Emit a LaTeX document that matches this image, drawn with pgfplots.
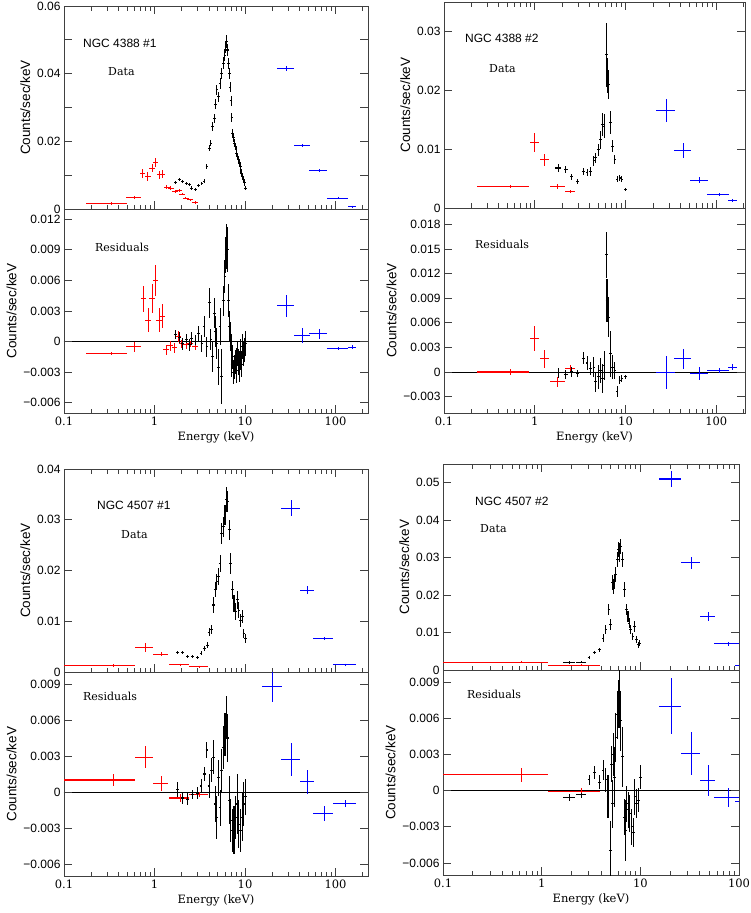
\documentclass[border=0pt]{standalone}
\usepackage{pgfplots}
\pgfplotsset{compat=1.18}
\usepackage{fontspec}
\setmainfont{Liberation Sans}
\newfontfamily\serf{DejaVu Serif}
\pgfplotsset{
  panel/.style={
    scale only axis, xmin=0.1,
    tick align=inside,
    scaled y ticks=false,
    xtick={0.1,1,10,100},
    minor xtick={0.2,0.3,0.4,0.5,0.6,0.7,0.8,0.9,2,3,4,5,6,7,8,9,20,30,40,50,60,70,80,90,200},
    major tick length=8pt, minor tick length=4.5pt,
    axis line style={line width=0.8pt, black!75},
    every tick/.append style={line width=0.7pt, black!75},
    yticklabel style={font=\fontsize{12}{14}\selectfont},
    xticklabel style={font=\serf\fontsize{11.5}{13}\selectfont},
    ylabel={Counts/sec/keV},
    ylabel style={font=\fontsize{13.5}{15}\selectfont},
    anchor=north west,
  },
  dat/.style={panel, xticklabels={}},
  res/.style={panel, xtick pos=left, xticklabels={0.1,1,10,100},
    xlabel={Energy (keV)}, xlabel style={font=\serf\fontsize{11.5}{13}\selectfont},
    extra y ticks={0}, extra y tick labels={}, extra y tick style={grid=major},
    major grid style={black, line width=0.8pt}},
  eb/.style={only marks, mark=+, mark size=1.3pt, line width=1.05pt,
    mark options={line width=1.05pt},
    error bars/x dir=both, error bars/x explicit,
    error bars/y dir=both, error bars/y explicit,
    error bars/error mark=none,
    error bars/error bar style={line width=1.05pt}},
}
\newcommand{\lab}[2]{\node[anchor=west, inner sep=0pt, font=\fontsize{12}{14}\selectfont] at #1 {#2};}
\newcommand{\slab}[2]{\node[anchor=west, inner sep=0pt, font=\serf\fontsize{11}{13}\selectfont] at #1 {#2};}
\begin{document}
\begin{tikzpicture}
\path[use as bounding box] (0,0) rectangle (750pt,-913pt);

%================ NGC 4388 #1 data
\begin{semilogxaxis}[dat, at={(64pt,-6pt)}, width=304pt, height=203pt, xmax=228,
  ymin=0, ymax=0.06, ytick={0,0.01,0.02,0.03,0.04,0.05,0.06},
  yticklabels={0,,0.02,,0.04,,0.06}]
\addplot[red, eb] table[x=x,y=y,x error=ex,y error=ey] {
x y ex ey
0.336 0.00157 0.16 0.0001
0.60 0.00344 0.11 0.0003
0.743 0.0106 0.05 0.0013
0.844 0.0096 0.06 0.0013
0.942 0.0121 0.065 0.0013
1.026 0.0138 0.07 0.0014
1.135 0.0101 0.08 0.0012
1.225 0.0103 0.08 0.0012
1.367 0.0064 0.1 0.0006
1.514 0.0062 0.11 0.0006
1.69 0.0052 0.12 0.0005
1.87 0.0055 0.13 0.0005
2.02 0.0044 0.14 0.0004
2.22 0.0032 0.16 0.0003
2.47 0.0027 0.18 0.0003
2.81 0.0019 0.2 0.0002
};
\addplot[black, eb] table[x=x,y=y,x error=ex,y error=ey] {
x y ex ey
1.72 0.0079 0.07 0.0005
1.87 0.0087 0.07 0.0005
2.05 0.0082 0.08 0.0005
2.24 0.0075 0.08 0.0005
2.42 0.0072 0.09 0.0005
2.58 0.0062 0.09 0.0005
2.81 0.0057 0.1 0.0005
3.05 0.0069 0.1 0.0005
3.33 0.0075 0.1 0.0005
3.53 0.0082 0.1 0.0006
3.78 0.0126 0.08 0.0008
4.04 0.018 0.08 0.001
4.2 0.0195 0.05 0.001
4.40 0.0244 0.05 0.0012
4.59 0.0268 0.05 0.0013
4.75 0.0310 0.05 0.0015
4.88 0.0352 0.05 0.0015
5.1 0.0332 0.05 0.0015
5.3 0.0372 0.05 0.0016
5.52 0.0401 0.05 0.0016
5.77 0.0431 0.05 0.0017
5.99 0.0455 0.05 0.0017
6.15 0.0480 0.05 0.0018
6.28 0.0495 0.05 0.0018
6.4 0.047 0.05 0.0018
6.55 0.043 0.05 0.0017
6.71 0.040 0.05 0.0016
6.85 0.036 0.05 0.0015
7.0 0.032 0.05 0.0015
7.15 0.027 0.05 0.0014
7.31 0.0224 0.05 0.0013
7.45 0.021 0.05 0.0012
7.6 0.0195 0.06 0.0012
7.75 0.0185 0.06 0.0011
7.95 0.0175 0.06 0.0011
8.1 0.0165 0.06 0.001
8.3 0.0155 0.06 0.001
8.5 0.0146 0.06 0.001
8.68 0.0136 0.06 0.001
8.85 0.0125 0.06 0.0009
9.0 0.0116 0.06 0.0009
9.2 0.0106 0.06 0.0009
9.4 0.0096 0.06 0.0008
9.6 0.0087 0.06 0.0008
9.8 0.0077 0.06 0.0008
10.1 0.0062 0.06 0.0007
};
\addplot[blue, eb] table[x=x,y=y,x error=ex,y error=ey] {
x y ex ey
28.5 0.0416 6.2 0.0008
43.4 0.0188 8.7 0.0004
66 0.0113 15 0.0003
108 0.0032 28 0.0001
152 0.0006 15 0.0002
};
\end{semilogxaxis}

%================ NGC 4388 #1 residuals
\begin{semilogxaxis}[res, at={(64pt,-209pt)}, width=304pt, height=204pt, xmax=228,
  ymin=-0.007, ymax=0.013,
  ytick={-0.006,-0.003,0,0.003,0.006,0.009,0.012},
  yticklabels={−0.006,−0.003,0,0.003,0.006,0.009,0.012}]
\addplot[red, eb] table[x=x,y=y,x error=ex,y error=ey] {
x y ex ey
0.336 -0.00115 0.16 0.0001
0.60 -0.0005 0.11 0.0005
0.755 0.0042 0.05 0.0013
0.85 0.0021 0.06 0.0012
0.94 0.0042 0.065 0.0014
1.03 0.006 0.07 0.0015
1.13 0.0021 0.08 0.0012
1.22 0.0025 0.08 0.0012
1.35 -0.0008 0.1 0.0005
1.5 -0.0004 0.11 0.0005
1.66 -0.0006 0.12 0.0005
1.84 0.0005 0.13 0.0005
2.0 -0.0002 0.14 0.0004
2.24 -0.0003 0.16 0.0004
2.47 -0.0002 0.18 0.0003
2.81 -0.0005 0.2 0.0003
};
\addplot[black, eb] table[x=x,y=y,x error=ex,y error=ey] {
x y ex ey
1.72 0.0007 0.07 0.0004
1.87 0.0004 0.07 0.0005
2.05 -0.0002 0.08 0.0006
2.24 0.0002 0.08 0.0005
2.42 -0.0003 0.09 0.0006
2.58 0.0003 0.09 0.0006
2.81 0.0 0.1 0.0006
3.05 0.0008 0.1 0.0007
3.33 -0.0002 0.1 0.0008
3.53 0.0015 0.1 0.001
3.78 -0.0005 0.08 0.001
4.04 0.0038 0.08 0.0015
4.2 0.0002 0.05 0.001
4.40 -0.0015 0.05 0.0015
4.59 0.0028 0.05 0.0015
4.75 0.001 0.05 0.0015
4.88 -0.0002 0.05 0.0015
5.1 -0.0025 0.05 0.0018
5.3 0.0015 0.05 0.0018
5.52 -0.0034 0.05 0.0027
5.77 0.004 0.05 0.0015
5.99 0.0064 0.05 0.0016
6.15 0.0085 0.05 0.0018
6.28 0.0093 0.05 0.0022
6.4 0.009 0.05 0.0022
6.55 0.004 0.05 0.0016
6.71 0.0015 0.05 0.0015
6.85 0.0005 0.05 0.0014
7.0 -0.0005 0.05 0.0012
7.15 -0.0022 0.05 0.0013
7.31 -0.0015 0.05 0.0012
7.45 -0.003 0.05 0.0012
7.6 -0.0025 0.06 0.0012
7.75 -0.002 0.06 0.0012
7.95 -0.0018 0.06 0.0012
8.1 -0.0028 0.06 0.0013
8.3 -0.0012 0.06 0.0012
8.5 -0.002 0.06 0.0013
8.68 -0.0025 0.06 0.0015
8.85 -0.001 0.06 0.0013
9.0 -0.0015 0.06 0.0013
9.2 -0.0022 0.06 0.0013
9.4 -0.0005 0.06 0.0012
9.6 -0.0012 0.06 0.0012
9.8 -0.0008 0.06 0.0012
10.1 -0.0002 0.06 0.0012
};
\addplot[blue, eb] table[x=x,y=y,x error=ex,y error=ey] {
x y ex ey
28.5 0.0035 6.2 0.0011
43.4 0.0006 8.7 0.00075
66 0.00075 15 0.0005
108 -0.0007 28 0.0001
152 -0.00055 15 0.0002
};
\end{semilogxaxis}

%================ NGC 4388 #2 data
\begin{semilogxaxis}[dat, at={(444pt,-2pt)}, width=301pt, height=206pt, xmax=207,
  ymin=0, ymax=0.035, ytick={0,0.01,0.02,0.03},
  yticklabels={0,0.01,0.02,0.03}]
\addplot[red, eb] table[x=x,y=y,x error=ex,y error=ey] {
x y ex ey
0.545 0.0037 0.314 0.0002
1.0 0.0111 0.115 0.0016
1.29 0.0082 0.16 0.001
1.8 0.0036 0.34 0.0004
2.45 0.0028 0.31 0.0003
};
\addplot[black, eb] table[x=x,y=y,x error=ex,y error=ey] {
x y ex ey
1.81 0.0068 0.12 0.0006
2.2 0.0066 0.12 0.0006
2.54 0.0053 0.12 0.0005
2.96 0.0045 0.12 0.0005
3.41 0.0062 0.12 0.0006
3.78 0.0060 0.12 0.0006
4.11 0.0062 0.12 0.0007
4.48 0.0080 0.1 0.0008
4.66 0.0085 0.1 0.0009
5.0 0.0099 0.1 0.001
5.30 0.0116 0.1 0.0015
5.57 0.0142 0.1 0.002
5.8 0.0139 0.1 0.002
6.17 0.026 0.06 0.0055
6.3 0.0225 0.06 0.003
6.44 0.021 0.06 0.0025
6.84 0.0145 0.08 0.002
7.2 0.0105 0.08 0.001
7.63 0.0082 0.1 0.0008
8.09 0.0049 0.1 0.0005
8.66 0.0051 0.12 0.0005
9.1 0.0049 0.12 0.0005
10.0 0.0031 0.12 0.0002
};
\addplot[blue, eb] table[x=x,y=y,x error=ex,y error=ey] {
x y ex ey
28.3 0.0166 6.7 0.002
43.4 0.0098 9.2 0.0013
66 0.0047 14.5 0.0005
108 0.0023 29 0.0002
152 0.0013 19 0.0002
};
\end{semilogxaxis}

%================ NGC 4388 #2 residuals
\begin{semilogxaxis}[res, at={(444pt,-208pt)}, width=301pt, height=205pt, xmax=207,
  ymin=-0.005, ymax=0.02,
  ytick={-0.003,0,0.003,0.006,0.009,0.012,0.015,0.018},
  yticklabels={−0.003,0,0.003,0.006,0.009,0.012,0.015,0.018}]
\addplot[red, eb] table[x=x,y=y,x error=ex,y error=ey] {
x y ex ey
0.545 0.0 0.314 0.0004
1.0 0.0041 0.115 0.0015
1.29 0.0016 0.16 0.0011
1.8 -0.0012 0.34 0.0006
2.45 0.0004 0.31 0.0005
};
\addplot[black, eb] table[x=x,y=y,x error=ex,y error=ey] {
x y ex ey
1.81 -0.0001 0.12 0.0006
2.2 -0.0003 0.12 0.0005
2.54 0.0 0.12 0.0006
2.96 -0.0002 0.12 0.0004
3.41 0.0017 0.12 0.0007
3.78 0.0011 0.12 0.0008
4.11 0.0004 0.12 0.0008
4.48 0.0006 0.1 0.0012
4.66 -0.0012 0.1 0.0012
5.0 -0.0006 0.1 0.0015
5.30 0.0002 0.1 0.0015
5.57 -0.0008 0.1 0.0018
5.8 0.0008 0.1 0.0018
6.17 0.0143 0.06 0.0028
6.25 0.0087 0.06 0.0026
6.44 0.0067 0.06 0.0024
6.84 0.0022 0.08 0.0028
7.2 0.0006 0.08 0.0015
7.63 0.0002 0.1 0.001
8.09 -0.0024 0.1 0.0007
8.66 -0.001 0.12 0.0005
9.1 -0.0008 0.12 0.0004
10.0 -0.0006 0.12 0.0002
};
\addplot[blue, eb] table[x=x,y=y,x error=ex,y error=ey] {
x y ex ey
28.3 -0.0001 6.7 0.002
43.4 0.0016 9.2 0.0012
66 -0.0002 14.5 0.0008
108 0.0002 29 0.0003
152 0.0006 19 0.0004
};
\end{semilogxaxis}

%================ NGC 4507 #1 data
\begin{semilogxaxis}[dat, at={(64pt,-469pt)}, width=304pt, height=203pt, xmax=228,
  ymin=0, ymax=0.04, ytick={0,0.01,0.02,0.03,0.04},
  yticklabels={0,0.01,0.02,0.03,0.04}]
\addplot[red, eb] table[x=x,y=y,x error=ex,y error=ey] {
x y ex ey
0.356 0.0013 0.256 0.0001
0.786 0.0049 0.174 0.0009
1.19 0.0035 0.23 0.0004
1.93 0.0014 0.5 0.0002
3.14 0.001 0.71 0.0001
};
\addplot[black, eb] table[x=x,y=y,x error=ex,y error=ey] {
x y ex ey
1.79 0.0039 0.08 0.0003
2.04 0.0038 0.08 0.0003
2.33 0.003 0.09 0.0003
2.63 0.003 0.1 0.0003
2.98 0.0028 0.1 0.0003
3.27 0.0037 0.06 0.0004
3.55 0.0047 0.06 0.0005
3.87 0.0053 0.06 0.0006
4.0 0.0078 0.05 0.0008
4.28 0.0083 0.05 0.0009
4.48 0.0132 0.04 0.0015
4.68 0.0162 0.04 0.0015
4.88 0.0178 0.04 0.0015
5.1 0.0188 0.04 0.0016
5.3 0.0214 0.04 0.0017
5.52 0.0273 0.04 0.002
5.77 0.0286 0.04 0.002
6.0 0.031 0.04 0.002
6.28 0.034 0.04 0.0025
6.4 0.0336 0.04 0.002
6.71 0.028 0.04 0.002
6.95 0.0214 0.04 0.002
7.25 0.0162 0.05 0.0018
7.55 0.0135 0.05 0.0017
7.9 0.0119 0.05 0.0016
8.2 0.0142 0.05 0.0017
8.55 0.0122 0.05 0.0015
8.9 0.0102 0.05 0.0013
9.3 0.0109 0.05 0.0013
9.7 0.0076 0.05 0.0009
10.1 0.0066 0.05 0.0008
};
\addplot[blue, eb] table[x=x,y=y,x error=ex,y error=ey] {
x y ex ey
32.7 0.0323 7.8 0.0015
49 0.0161 8.6 0.0008
74.8 0.0066 17.9 0.0003
130 0.0014 37 0.0001
};
\end{semilogxaxis}

%================ NGC 4507 #1 residuals
\begin{semilogxaxis}[res, at={(64pt,-672pt)}, width=304pt, height=204pt, xmax=228,
  ymin=-0.007, ymax=0.01,
  ytick={-0.006,-0.003,0,0.003,0.006,0.009},
  yticklabels={−0.006,−0.003,0,0.003,0.006,0.009}]
\addplot[red, eb] table[x=x,y=y,x error=ex,y error=ey] {
x y ex ey
0.356 0.001 0.256 0.0005
0.786 0.0029 0.174 0.0009
1.19 0.0007 0.23 0.0006
1.93 -0.0005 0.5 0.0003
3.14 -0.0002 0.71 0.0002
};
\addplot[black, eb] table[x=x,y=y,x error=ex,y error=ey] {
x y ex ey
1.79 0.0002 0.08 0.0006
2.04 -0.0005 0.08 0.0005
2.33 -0.0006 0.09 0.0005
2.63 -0.0002 0.1 0.0004
2.98 -0.0001 0.1 0.0005
3.27 0.0005 0.06 0.0006
3.55 0.0015 0.06 0.0006
3.78 0.0035 0.06 0.0007
4.0 0.0005 0.05 0.001
4.28 0.0018 0.05 0.001
4.48 0.0029 0.04 0.0014
4.68 -0.001 0.04 0.0015
4.88 -0.0021 0.04 0.0018
5.1 0.0012 0.04 0.0015
5.3 -0.0013 0.04 0.0015
5.52 0.0018 0.04 0.0018
5.77 0.0037 0.04 0.0018
6.0 0.0048 0.04 0.0018
6.28 0.0062 0.04 0.0018
6.4 0.0045 0.04 0.002
6.71 -0.0007 0.04 0.002
6.95 -0.0024 0.04 0.0018
7.25 -0.0032 0.05 0.0018
7.55 -0.0032 0.05 0.002
7.9 -0.0021 0.05 0.0018
8.2 -0.001 0.05 0.0025
8.55 -0.0027 0.05 0.002
8.9 -0.0032 0.05 0.0018
9.3 -0.0021 0.05 0.002
9.7 -0.001 0.05 0.0018
10.1 -0.0004 0.05 0.0015
};
\addplot[blue, eb] table[x=x,y=y,x error=ex,y error=ey] {
x y ex ey
20.3 0.0088 5 0.0013
32.7 0.0027 7.8 0.0014
49 0.00086 8.6 0.001
74.8 -0.0018 17.9 0.0006
130 -0.00095 37 0.0003
};
\end{semilogxaxis}

%================ NGC 4507 #2 data
\begin{semilogxaxis}[dat, at={(443pt,-464pt)}, width=296pt, height=206pt, xmax=100,
  ymin=0, ymax=0.055, ytick={0,0.01,0.02,0.03,0.04,0.05},
  yticklabels={0,0.01,0.02,0.03,0.04,0.05}]
\addplot[red, eb] table[x=x,y=y,x error=ex,y error=ey] {
x y ex ey
0.63 0.0021 0.53 0.0002
2.55 0.0013 1.39 0.0002
};
\addplot[black, eb] table[x=x,y=y,x error=ex,y error=ey] {
x y ex ey
1.9 0.002 0.26 0.0002
2.54 0.0021 0.3 0.0002
3.02 0.0034 0.1 0.0003
3.45 0.0047 0.1 0.0004
3.87 0.0054 0.1 0.0005
4.19 0.0085 0.06 0.001
4.47 0.0107 0.06 0.0012
4.81 0.0161 0.06 0.0015
5.0 0.0121 0.05 0.0015
5.2 0.0233 0.05 0.002
5.35 0.0224 0.05 0.002
5.5 0.0237 0.05 0.002
5.66 0.0255 0.05 0.002
5.88 0.0295 0.05 0.002
6.0 0.0322 0.05 0.002
6.2 0.0313 0.05 0.0025
6.3 0.0331 0.05 0.002
6.6 0.0295 0.05 0.002
6.9 0.0215 0.05 0.002
7.2 0.0161 0.06 0.0015
7.5 0.0143 0.06 0.0015
7.7 0.0125 0.06 0.0013
8.0 0.0107 0.06 0.0012
8.4 0.0089 0.06 0.001
8.7 0.0116 0.06 0.0015
9.1 0.0081 0.06 0.0009
9.5 0.0067 0.06 0.0008
9.9 0.0072 0.06 0.0008
};
\addplot[blue, eb] table[x=x,y=y,x error=ex,y error=ey] {
x y ex ey
20.5 0.051 5.2 0.0021
32.8 0.0286 7.1 0.0016
48.7 0.0143 8.8 0.0012
78 0.007 22 0.0005
120 0.0013 28 0.0002
};
\end{semilogxaxis}

%================ NGC 4507 #2 residuals
\begin{semilogxaxis}[res, at={(443pt,-670pt)}, width=296pt, height=205pt, xmax=100,
  ymin=-0.007, ymax=0.01,
  ytick={-0.006,-0.003,0,0.003,0.006,0.009},
  yticklabels={−0.006,−0.003,0,0.003,0.006,0.009}]
\addplot[red, eb] table[x=x,y=y,x error=ex,y error=ey] {
x y ex ey
0.63 0.0013 0.53 0.0006
2.55 -0.0001 1.39 0.0003
};
\addplot[black, eb] table[x=x,y=y,x error=ex,y error=ey] {
x y ex ey
1.9 -0.0006 0.26 0.0003
2.54 -0.0003 0.3 0.0003
3.02 0.0009 0.1 0.0004
3.45 0.0015 0.1 0.0005
3.87 0.0007 0.1 0.0006
4.19 0.0017 0.06 0.0008
4.47 0.0009 0.06 0.001
4.7 -0.0005 0.05 0.0018
4.95 -0.005 0.05 0.0025
5.1 0.0022 0.05 0.0015
5.2 -0.0011 0.05 0.002
5.35 0.003 0.05 0.0018
5.5 0.0011 0.05 0.0025
5.66 0.0044 0.05 0.002
5.88 0.0063 0.05 0.002
6.0 0.0072 0.05 0.002
6.2 0.0077 0.05 0.0025
6.3 0.0058 0.05 0.0025
6.6 0.0028 0.05 0.0025
6.9 -0.0022 0.05 0.0015
7.05 -0.0033 0.05 0.0025
7.3 -0.0011 0.06 0.0015
7.55 -0.0016 0.06 0.0015
7.8 -0.0019 0.06 0.0015
8.2 -0.003 0.06 0.0015
8.5 -0.0035 0.06 0.0012
8.8 -0.0005 0.06 0.0015
9.2 -0.0011 0.06 0.0012
9.6 -0.0008 0.06 0.001
10.0 0.0011 0.06 0.001
};
\addplot[blue, eb] table[x=x,y=y,x error=ex,y error=ey] {
x y ex ey
20.5 0.007 5.2 0.0023
32.8 0.0031 7.1 0.0018
48.7 0.00085 8.8 0.0013
78 -0.0006 22 0.0008
120 -0.0009 28 0.0002
};
\end{semilogxaxis}

%================ annotations
\lab{(83pt,-43pt)}{NGC 4388 \#1}
\slab{(108pt,-72pt)}{Data}
\slab{(95pt,-247pt)}{Residuals}
\lab{(465pt,-38pt)}{NGC 4388 \#2}
\slab{(489pt,-69pt)}{Data}
\slab{(475pt,-244pt)}{Residuals}
\lab{(97pt,-505pt)}{NGC 4507 \#1}
\slab{(121pt,-535pt)}{Data}
\slab{(83pt,-696pt)}{Residuals}
\lab{(475pt,-501pt)}{NGC 4507 \#2}
\slab{(480pt,-529pt)}{Data}
\slab{(467pt,-694pt)}{Residuals}
\end{tikzpicture}
\end{document}
